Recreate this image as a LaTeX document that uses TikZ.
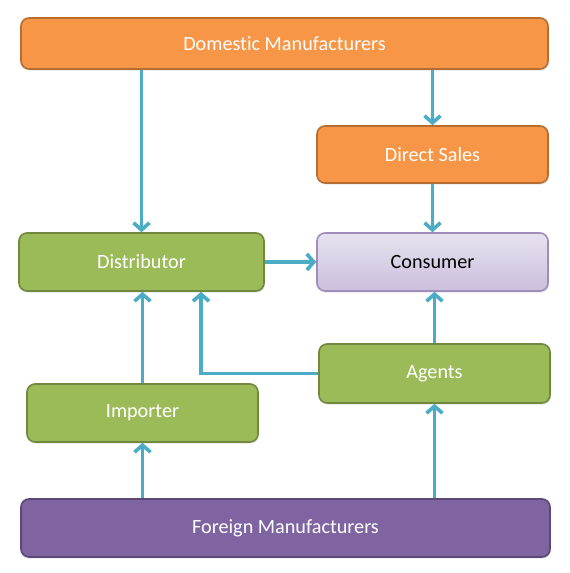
\documentclass[tikz,border=0pt]{standalone}
\usepackage{fontspec}
\setmainfont{Carlito}[Ligatures=NoCommon]
\usepackage{tikz}
\usetikzlibrary{arrows.meta,shadows}
\definecolor{orangefill}{HTML}{F79646}
\definecolor{orangeline}{HTML}{B66D31}
\definecolor{greenfill}{HTML}{9BBB59}
\definecolor{greenline}{HTML}{71893F}
\definecolor{purplefill}{HTML}{8064A2}
\definecolor{purpleline}{HTML}{5C4776}
\definecolor{lilactop}{HTML}{E8E2EF}
\definecolor{lilacbot}{HTML}{CBBFDD}
\definecolor{lilacline}{HTML}{A08DBA}
\definecolor{flowcol}{HTML}{4BACC6}
\tikzset{
  box/.style={rounded corners=8pt, line width=1.6pt, text=white,
    font=\fontsize{20.2}{23}\selectfont,
    drop shadow={shadow xshift=1pt, shadow yshift=-1.5pt, opacity=0.2}},
  orangebox/.style={box, fill=orangefill, draw=orangeline},
  greenbox/.style={box, fill=greenfill, draw=greenline},
  purplebox/.style={box, fill=purplefill, draw=purpleline},
  lilacbox/.style={box, top color=lilactop, bottom color=lilacbot, draw=lilacline, text=black},
  flow/.style={draw=flowcol, line width=3.6pt, -{Straight Barb[length=7pt,width=16pt]}}
}
\begin{document}
\begin{tikzpicture}[x=1pt,y=-1pt]
			\useasboundingbox[fill=white] (0,0) rectangle (570,573);
			\node[orangebox, minimum width=527pt, minimum height=51pt] (domestic) at (284.5,43.5) {Domestic Manufacturers};
			\node[orangebox, minimum width=231pt, minimum height=57pt] (direct) at (432.5,154.5) {Direct Sales};
			\node[greenbox, minimum width=245pt, minimum height=58pt] (distributor) at (141.5,262) {Distributor};
			\node[lilacbox, minimum width=231pt, minimum height=58pt] (consumer) at (432.5,262) {Consumer};
			\node[greenbox, minimum width=231pt, minimum height=59pt] (agents) at (434.5,373.5) {Agents};
			\node[greenbox, minimum width=231pt, minimum height=58pt] (importer) at (142.5,413) {Importer};
			\node[purplebox, minimum width=529pt, minimum height=58pt] (foreign) at (285.5,528) {Foreign Manufacturers};
			\draw[flow] (distributor.north |- domestic.south) -- (distributor.north);
			\draw[flow] (direct.north |- domestic.south) -- (direct.north);
			\draw[flow] (direct.south) -- (direct.south |- consumer.north);
			\draw[flow] (distributor.east) -- (consumer.west);
			\draw[flow] (importer.north) -- (importer.north |- distributor.south);
			\draw[flow] (agents.west) -| ([xshift=59.5pt]distributor.south);
			\draw[flow] (agents.north) -- (agents.north |- consumer.south);
			\draw[flow] (importer.south |- foreign.north) -- (importer.south);
			\draw[flow] (agents.south |- foreign.north) -- (agents.south);
		\end{tikzpicture}
\end{document}
